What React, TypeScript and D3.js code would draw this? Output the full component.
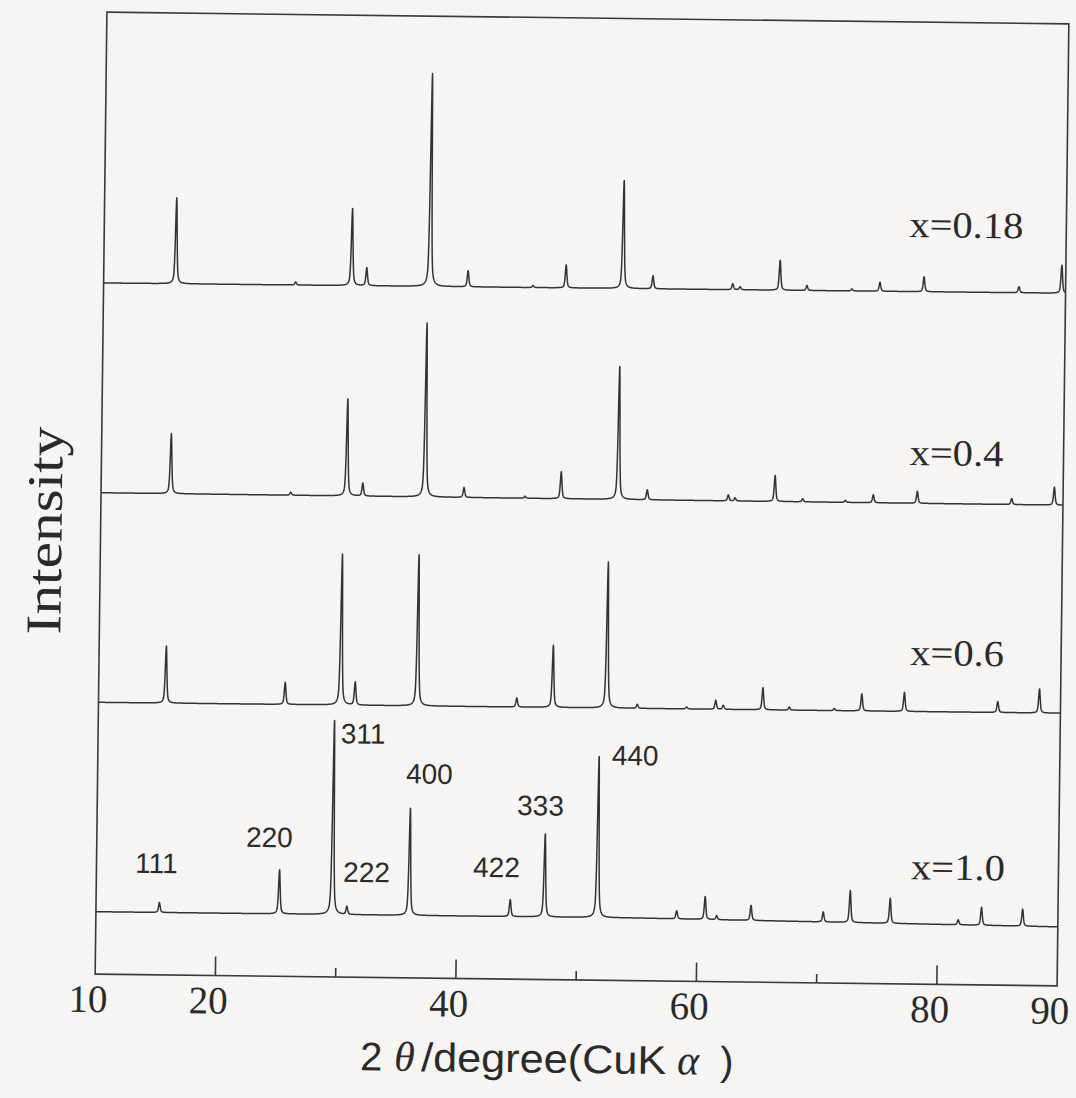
import React, { useMemo } from "react";
import * as d3 from "d3";

// ---------- data ----------
const seriesNames = ["x=0.18", "x=0.4", "x=0.6", "x=1.0"];

// peaks: [2θ (deg), peak intensity above background (a.u.)]
const peaksX018: [number, number][] = [
  [16.0, 860], [25.97, 30], [30.63, 770], [31.87, 180], [37.14, 2130], [40.3, 160],
  [45.71, 20], [48.45, 230], [53.19, 1080], [55.68, 130], [62.32, 60], [62.93, 30],
  [66.24, 300], [68.49, 50], [72.23, 20], [74.56, 90], [78.22, 150], [86.12, 60], [89.67, 280],
];
const peaksX04: [number, number][] = [
  [15.79, 600], [25.77, 30], [30.43, 970], [31.76, 130], [36.94, 1740], [40.18, 100],
  [45.26, 20], [48.25, 270], [53.01, 1330], [55.42, 100], [62.16, 60], [62.72, 30],
  [66.04, 260], [68.35, 30], [71.9, 20], [74.22, 80], [77.88, 120], [85.73, 60], [89.27, 180],
];
const peaksX06: [number, number][] = [
  [15.59, 570], [25.51, 220], [30.14, 1510], [31.33, 230], [36.51, 1510], [44.78, 90],
  [47.77, 620], [52.26, 1460], [54.81, 40], [58.91, 20], [61.33, 90], [61.96, 40],
  [65.24, 220], [67.45, 30], [71.19, 20], [73.47, 170], [77.01, 190], [84.78, 110], [88.24, 240],
];
const peaksX10: [number, number][] = [
  [15.27, 100], [25.23, 440], [29.65, 1940], [30.86, 80], [36.05, 1070], [44.44, 170],
  [47.29, 830], [51.69, 1610], [58.29, 80], [60.65, 230], [61.62, 40], [64.47, 150],
  [70.48, 100], [72.71, 320], [76.04, 250], [81.71, 50], [83.64, 180], [87.06, 170],
];

// background (stacking offset) of each pattern: [2θ, level]
const backgroundX018: [number, number][] = [[10, 6912], [90, 6927]];
const backgroundX04: [number, number][] = [[10, 4814], [90, 4807]];
const backgroundX06: [number, number][] = [[10, 2718], [50, 2723], [90, 2727]];
const backgroundX10: [number, number][] = [[10, 624], [55, 627], [90, 590]];

// Miller indices of x=1.0 peaks
const hklLabels = ["111", "220", "311", "222", "400", "422", "333", "440"];

const xTickLabels = [10, 20, 40, 60, 80, 90];
const xMajorTicks = [20, 40, 60, 80];
const xMinorTicks = [30, 50, 70];

// ---------- layout ----------
const W = 1076;
const H = 1098;
const FRAME = { left: 101, right: 1063, top: 18, bottom: 980 };
const ROT = { angle: 0.7, cx: 582, cy: 499 };

// label anchors in data coordinates [2θ, level]
const seriesLabelAnchors: [number, number][] = [
  [76.94, 7470], [77.19, 5190], [77.44, 3190], [77.72, 1047],
];
const seriesLabelWidths = [114, 94, 94, 94];
const hklAnchors: [number, number][] = [
  [13.21, 1018], [22.41, 1292], [30.18, 2338], [30.52, 954],
  [35.65, 1946], [41.32, 1020], [44.92, 1642], [52.74, 2154],
];

const PROFILE_FWHM = 0.16;
const PROFILE_ETA = 0.55;

function profile(peaks: [number, number][], bg: [number, number][]) {
  const bgScale = d3
    .scaleLinear()
    .domain(bg.map((d) => d[0]))
    .range(bg.map((d) => d[1]));
  const grid = d3.range(10, 90.0001, 0.02).concat(peaks.map((p) => p[0]));
  grid.sort((a, b) => a - b);
  const w = PROFILE_FWHM;
  return grid.map((t) => {
    let v = bgScale(t);
    for (const [c, h] of peaks) {
      const d = (t - c) / w;
      if (Math.abs(d) > 40) continue;
      const L = 1 / (1 + 4 * d * d);
      const G = Math.exp(-4 * Math.LN2 * d * d);
      v += h * (PROFILE_ETA * L + (1 - PROFILE_ETA) * G);
    }
    return [t, v] as [number, number];
  });
}

export default function App() {
  const x = d3.scaleLinear().domain([10, 90]).range([FRAME.left, FRAME.right]);
  const y = d3.scaleLinear().domain([0, 9620]).range([FRAME.bottom, FRAME.top]);

  const paths = useMemo(() => {
    const sets: [[number, number][], [number, number][]][] = [
      [peaksX018, backgroundX018],
      [peaksX04, backgroundX04],
      [peaksX06, backgroundX06],
      [peaksX10, backgroundX10],
    ];
    const line = d3
      .line<[number, number]>()
      .x((d) => x(d[0]))
      .y((d) => y(d[1]));
    return sets.map(([p, b]) => line(profile(p, b)) as string);
  }, []);

  const serif = "'Liberation Serif', 'Times New Roman', serif";
  const sans = "'Liberation Sans', Arial, Helvetica, sans-serif";
  const ink = "#333";

  return (
    <svg
      width={W}
      height={H}
      style={{ position: "absolute", left: 0, top: 0, background: "#f6f5f3" }}
    >
      <rect x={0} y={0} width={W} height={H} fill="#f6f5f3" />
      <defs>
        <clipPath id="plotclip">
          <rect
            x={FRAME.left}
            y={FRAME.top}
            width={FRAME.right - FRAME.left}
            height={FRAME.bottom - FRAME.top}
          />
        </clipPath>
      </defs>
      <g transform={`rotate(${ROT.angle}, ${ROT.cx}, ${ROT.cy})`}>
        {/* patterns */}
        <g clipPath="url(#plotclip)">
          {paths.map((d, i) => (
            <path
              key={i}
              d={d}
              fill="none"
              stroke={ink}
              strokeWidth={1.5}
              strokeLinejoin="round"
            />
          ))}
        </g>

        {/* frame */}
        <rect
          x={FRAME.left}
          y={FRAME.top}
          width={FRAME.right - FRAME.left}
          height={FRAME.bottom - FRAME.top}
          fill="none"
          stroke="#3a3a3a"
          strokeWidth={1.6}
        />

        {/* ticks */}
        {xMajorTicks.map((t) => (
          <line
            key={"M" + t}
            x1={x(t)}
            x2={x(t)}
            y1={FRAME.bottom}
            y2={FRAME.bottom - 19}
            stroke="#3a3a3a"
            strokeWidth={1.6}
          />
        ))}
        {xMinorTicks.map((t) => (
          <line
            key={"m" + t}
            x1={x(t)}
            x2={x(t)}
            y1={FRAME.bottom}
            y2={FRAME.bottom - 9}
            stroke="#3a3a3a"
            strokeWidth={1.6}
          />
        ))}
        {xTickLabels.map((t) => (
          <text
            key={"l" + t}
            x={x(t) - 7}
            y={FRAME.bottom + 38}
            textAnchor="middle"
            fontFamily={serif}
            fontSize={39}
            fill="#2a2a2a"
          >
            {t}
          </text>
        ))}

        {/* axis titles */}
        <text
          x={62}
          y={537}
          transform="rotate(-90, 62, 537)"
          textAnchor="middle"
          fontFamily={serif}
          fontSize={50}
          textLength={208}
          lengthAdjust="spacingAndGlyphs"
          fill="#2a2a2a"
        >
          Intensity
        </text>
        <text y={1073} fontFamily={sans} fontSize={40} fill="#2a2a2a">
          <tspan x={367}>2</tspan>
          <tspan x={401} fontFamily={serif} fontStyle="italic" fontSize={42}>
            θ
          </tspan>
          <tspan x={428} textLength={245} lengthAdjust="spacingAndGlyphs">
            /degree(CuK
          </tspan>
          <tspan x={684} fontFamily={serif} fontStyle="italic" fontSize={42}>
            α
          </tspan>
          <tspan x={727}>)</tspan>
        </text>

        {/* series labels */}
        {seriesNames.map((n, i) => (
          <text
            key={n}
            x={x(seriesLabelAnchors[i][0])}
            y={y(seriesLabelAnchors[i][1])}
            fontFamily={serif}
            fontSize={37}
            textLength={seriesLabelWidths[i]}
            lengthAdjust="spacingAndGlyphs"
            fill="#2a2a2a"
          >
            {n}
          </text>
        ))}

        {/* Miller indices */}
        {hklLabels.map((h, i) => (
          <text
            key={h}
            x={x(hklAnchors[i][0])}
            y={y(hklAnchors[i][1])}
            fontFamily={sans}
            fontSize={28}
            fill="#2a2a2a"
          >
            {h}
          </text>
        ))}
      </g>
    </svg>
  );
}
